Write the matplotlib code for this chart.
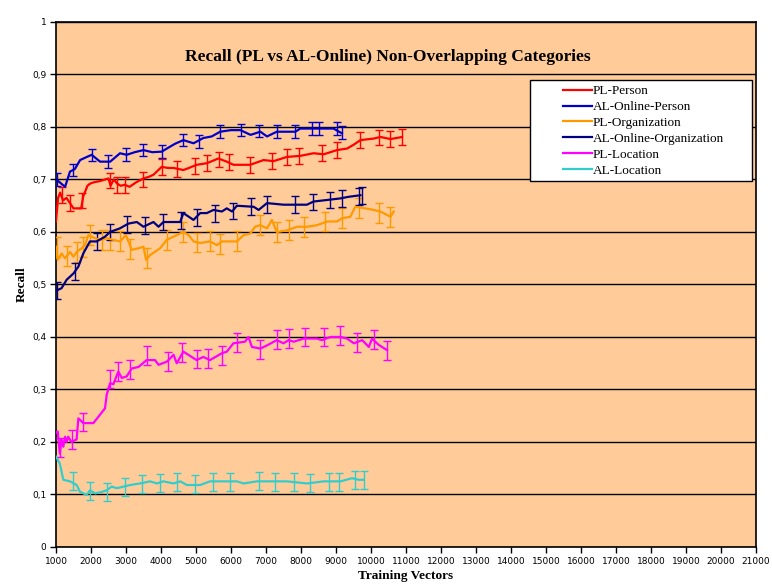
import numpy as np
import matplotlib
matplotlib.use('Agg')
import matplotlib.pyplot as plt
from matplotlib.patches import Rectangle
from matplotlib.ticker import FuncFormatter

# PL-Person
pp_x = [1000, 1060, 1120, 1200, 1300, 1400, 1500, 1720, 1780, 1900, 1970, 2100, 2260, 2400, 2500, 2560, 2650, 2750, 2850, 2970,
        3100, 3300, 3500, 3650, 3785, 4020, 4200, 4360, 4640, 4800, 5020, 5310, 5640, 5880, 6070, 6550, 6930, 7220, 7600, 7980,
        8360, 8650, 9030, 9320, 9500, 9700, 10080, 10270, 10560, 10890]
pp_y = [0.62, 0.665, 0.675, 0.66, 0.665, 0.655, 0.645, 0.645, 0.668, 0.688, 0.692, 0.695, 0.697, 0.700, 0.702, 0.688, 0.70, 0.692, 0.688, 0.690,
        0.686, 0.695, 0.702, 0.705, 0.709, 0.724, 0.722, 0.722, 0.718, 0.722, 0.728, 0.731, 0.740, 0.734, 0.728, 0.728, 0.737, 0.735, 0.743, 0.745,
        0.750, 0.748, 0.756, 0.759, 0.766, 0.775, 0.778, 0.781, 0.777, 0.781]
pp_ex = [1160, 1400, 1735, 2545, 2754, 2974, 3498, 4023, 4452, 4977, 5310, 5644, 5930, 6531, 7171, 7600, 7934, 8601, 9030, 9698, 10220, 10557, 10891]
pp_ey = [0.67, 0.655, 0.66, 0.698, 0.69, 0.69, 0.70, 0.724, 0.72, 0.726, 0.731, 0.738, 0.733, 0.728, 0.735, 0.743, 0.745, 0.75, 0.756, 0.775, 0.78, 0.777, 0.781]
pp_err = 0.015

# AL-Online-Person
ap_x = [1000, 1100, 1260, 1400, 1540, 1690, 1850, 2020, 2260, 2550, 2830, 3020, 3250, 3500, 3750, 4020, 4170, 4400, 4640, 4930,
        5210, 5450, 5690, 6000, 6270, 6560, 6840, 7030, 7310, 7600, 7840, 7980, 8360, 8550, 8930, 9170]
ap_y = [0.70, 0.695, 0.686, 0.715, 0.72, 0.737, 0.742, 0.747, 0.734, 0.734, 0.75, 0.747, 0.752, 0.756, 0.752, 0.753, 0.759, 0.768, 0.775, 0.769,
        0.779, 0.782, 0.791, 0.794, 0.794, 0.785, 0.791, 0.782, 0.791, 0.791, 0.791, 0.797, 0.797, 0.797, 0.797, 0.788]
ap_ex = [1020, 1480, 2020, 2500, 3010, 3500, 4020, 4620, 5100, 5690, 6300, 6800, 7310, 7840, 8320, 8510, 9020, 9180]
ap_ey = [0.70, 0.718, 0.747, 0.734, 0.748, 0.756, 0.753, 0.775, 0.772, 0.791, 0.794, 0.792, 0.791, 0.791, 0.797, 0.797, 0.797, 0.79]
ap_err = 0.012

# PL-Organization
po_x = [1000, 1050, 1160, 1260, 1400, 1500, 1590, 1735, 1830, 1925, 2120, 2310, 2450, 2640, 2830, 3000, 3165, 3360, 3500, 3575,
        3690, 3975, 4165, 4450, 4640, 4790, 4930, 5120, 5400, 5600, 5740, 5980, 6170, 6360, 6550, 6690, 6840, 7030, 7170, 7310,
        7600, 7890, 8170, 8460, 8750, 9030, 9170, 9410, 9550, 9840, 10080, 10270, 10560, 10650]
po_y = [0.572, 0.547, 0.559, 0.55, 0.562, 0.553, 0.562, 0.569, 0.575, 0.594, 0.588, 0.585, 0.588, 0.585, 0.582, 0.594, 0.566, 0.569, 0.572, 0.547,
        0.556, 0.569, 0.585, 0.594, 0.60, 0.594, 0.582, 0.579, 0.582, 0.575, 0.582, 0.582, 0.582, 0.594, 0.597, 0.61, 0.613, 0.607, 0.623, 0.60,
        0.603, 0.61, 0.61, 0.613, 0.62, 0.62, 0.626, 0.629, 0.648, 0.645, 0.642, 0.639, 0.629, 0.639]
po_ex = [1020, 1305, 1591, 1782, 1973, 2307, 2545, 2831, 3117, 3594, 4166, 4643, 5024, 5405, 5692, 6169, 6836, 7313, 7647, 8077,
         8697, 9174, 9650, 10223, 10557]
po_ey = [0.572, 0.555, 0.562, 0.572, 0.594, 0.585, 0.585, 0.582, 0.568, 0.55, 0.585, 0.60, 0.58, 0.582, 0.578, 0.582, 0.613, 0.60, 0.603, 0.61,
         0.62, 0.626, 0.645, 0.636, 0.629]
po_err = 0.019

# AL-Online-Organization
ao_x = [1000, 1160, 1305, 1500, 1640, 1780, 1970, 2160, 2400, 2545, 2830, 3070, 3310, 3500, 3785, 3930, 4070, 4550, 4640, 4930,
        5120, 5310, 5500, 5740, 5880, 6030, 6170, 6650, 6790, 7030, 7500, 7840, 8170, 8360, 8750, 9130, 9360, 9700]
ao_y = [0.488, 0.493, 0.509, 0.521, 0.534, 0.559, 0.582, 0.582, 0.591, 0.60, 0.607, 0.616, 0.619, 0.61, 0.619, 0.61, 0.619, 0.619, 0.636, 0.623,
        0.636, 0.636, 0.642, 0.639, 0.645, 0.639, 0.65, 0.648, 0.642, 0.655, 0.652, 0.652, 0.652, 0.658, 0.661, 0.664, 0.667, 0.670]
ao_ex = [1020, 1544, 2164, 2545, 3040, 3546, 4052, 4567, 5024, 5549, 6055, 6570, 7027, 7838, 8343, 8840, 9174, 9650, 9745]
ao_ey = [0.488, 0.525, 0.582, 0.60, 0.615, 0.612, 0.619, 0.622, 0.628, 0.635, 0.64, 0.648, 0.653, 0.652, 0.657, 0.661, 0.664, 0.668, 0.670]
ao_err = 0.016

# PL-Location
pl_x = [1000, 1050, 1110, 1160, 1210, 1260, 1305, 1350, 1440, 1590, 1640, 1780, 2070, 2400, 2450, 2545, 2640, 2780, 2880, 3020,
        3165, 3360, 3590, 3830, 3930, 4170, 4360, 4450, 4640, 5020, 5210, 5400, 5740, 5880, 6070, 6400, 6500, 6600, 6840, 7030,
        7310, 7500, 7650, 7790, 8080, 8460, 8600, 8840, 9130, 9320, 9510, 9750, 9940, 10030, 10220, 10460]
pl_y = [0.218, 0.22, 0.178, 0.205, 0.191, 0.21, 0.20, 0.21, 0.20, 0.205, 0.245, 0.236, 0.236, 0.264, 0.29, 0.312, 0.31, 0.334, 0.322, 0.325,
        0.34, 0.343, 0.356, 0.356, 0.347, 0.353, 0.366, 0.35, 0.372, 0.356, 0.362, 0.356, 0.369, 0.372, 0.388, 0.391, 0.40, 0.381, 0.378, 0.384,
        0.394, 0.388, 0.394, 0.391, 0.397, 0.397, 0.394, 0.40, 0.40, 0.397, 0.388, 0.394, 0.381, 0.397, 0.385, 0.375]
pl_ex = [1114, 1448, 1782, 2545, 2783, 3117, 3594, 4214, 4595, 5024, 5358, 5740, 6169, 6837, 7313, 7647, 8125, 8649, 9126, 9603, 10080, 10460]
pl_ey = [0.19, 0.205, 0.238, 0.32, 0.334, 0.338, 0.365, 0.353, 0.37, 0.358, 0.359, 0.365, 0.39, 0.376, 0.395, 0.397, 0.40, 0.40, 0.402, 0.39, 0.395, 0.375]
pl_err = 0.018

# AL-Location
al_x = [1000, 1110, 1210, 1400, 1590, 1690, 1880, 1970, 2120, 2310, 2450, 2590, 2740, 2930, 3120, 3400, 3690, 3880, 4070, 4360,
        4550, 4740, 5120, 5400, 5790, 6170, 6360, 6740, 7220, 7600, 8170, 8650, 9130, 9460, 9650, 9790]
al_y = [0.172, 0.159, 0.128, 0.125, 0.118, 0.105, 0.099, 0.108, 0.102, 0.105, 0.108, 0.115, 0.112, 0.115, 0.118, 0.121, 0.125, 0.121, 0.125, 0.121,
        0.125, 0.118, 0.118, 0.125, 0.125, 0.125, 0.121, 0.125, 0.125, 0.125, 0.121, 0.125, 0.125, 0.131, 0.128, 0.128]
al_ex = [1496, 1973, 2450, 2974, 3451, 3976, 4452, 4977, 5501, 5978, 6789, 7266, 7790, 8268, 8792, 9078, 9555, 9793]
al_ey = [0.125, 0.106, 0.105, 0.115, 0.12, 0.122, 0.123, 0.12, 0.124, 0.123, 0.125, 0.124, 0.124, 0.122, 0.124, 0.124, 0.128, 0.128]
al_err = 0.017

series = [
    ('PL-Person', pp_x, pp_y, pp_ex, pp_ey, pp_err, '#FF0000'),
    ('AL-Online-Person', ap_x, ap_y, ap_ex, ap_ey, ap_err, '#0000CC'),
    ('PL-Organization', po_x, po_y, po_ex, po_ey, po_err, '#FF9900'),
    ('AL-Online-Organization', ao_x, ao_y, ao_ex, ao_ey, ao_err, '#000080'),
    ('PL-Location', pl_x, pl_y, pl_ex, pl_ey, pl_err, '#FF00FF'),
    ('AL-Location', al_x, al_y, al_ex, al_ey, al_err, '#33CCCC'),
]

fig = plt.figure(figsize=(7.72, 5.85), dpi=100)
ax = fig.add_axes([0.0725, 0.065, 0.9067, 0.8974])
ax.set_facecolor('#FFCC99')

for name, x, y, ex, ey, err, col in series:
    ax.plot(x, y, color=col, lw=1.6, label=name, zorder=4)
    ax.errorbar(ex, ey, yerr=err, fmt='none', ecolor=col, elinewidth=1, capsize=3, capthick=1, zorder=3)

ax.set_xlim(1000, 21000)
ax.set_ylim(0, 1)
ax.set_xticks(np.arange(1000, 21001, 1000))
ax.set_yticks(np.arange(0, 1.01, 0.1))
ax.yaxis.set_major_formatter(FuncFormatter(lambda v, p: ('%g' % round(v, 1)).replace('.', ',')))
ax.grid(axis='y', color='black', lw=1)
ax.set_axisbelow(True)
ax.tick_params(direction='out', length=4, width=1, labelsize=6.5, pad=3)
for s in ax.spines.values():
    s.set_linewidth(1.2)

ax.set_title('Recall (PL vs AL-Online) Non-Overlapping Categories', fontsize=12.5, fontweight='bold',
             family='Liberation Serif', x=0.474, y=0.91)
ax.set_xlabel('Training Vectors', fontsize=9.6, fontweight='bold', family='Liberation Serif', labelpad=3)
ax.set_ylabel('Recall', fontsize=9.6, fontweight='bold', family='Liberation Serif', labelpad=3)

# legend box like excel
ax.add_patch(Rectangle((0.677, 0.697), 0.317, 0.1925, transform=ax.transAxes, facecolor='white',
                       edgecolor='black', lw=1, zorder=5))
leg = ax.legend(loc='upper left', bbox_to_anchor=(0.72, 0.885), frameon=False, handlelength=2.2,
                handletextpad=0.1, labelspacing=0.28, borderaxespad=0, borderpad=0.2,
                prop={'family': 'Liberation Serif', 'size': 9.5})
leg.set_zorder(6)

fig.savefig('out.png', dpi=100)
